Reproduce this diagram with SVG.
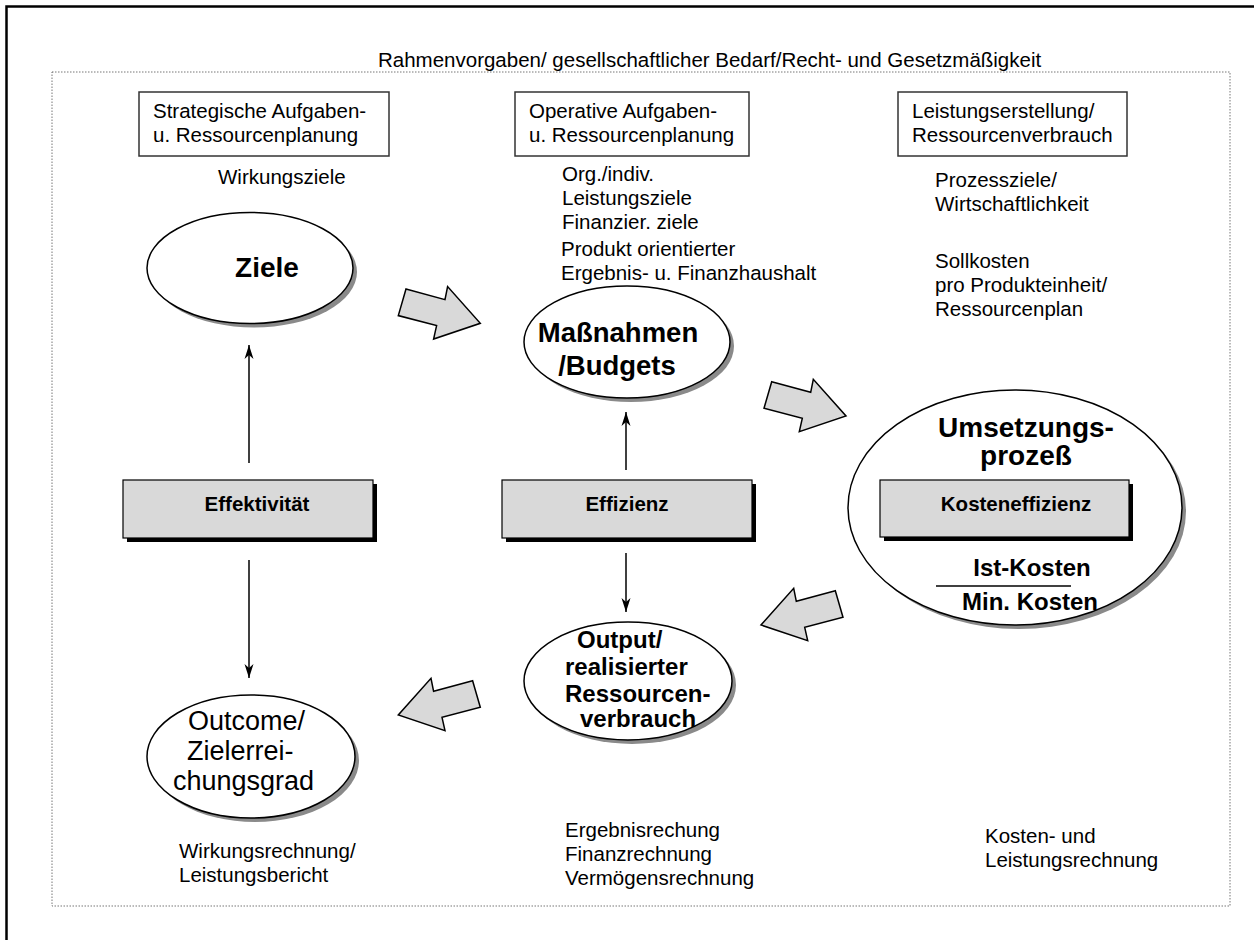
<svg xmlns="http://www.w3.org/2000/svg" width="1254" height="940" viewBox="0 0 1254 940">
  <style>
    text { font-family: "Liberation Sans", Arial, sans-serif; fill: #000; }
    .t { font-size: 20.5px; }
    .b { font-weight: bold; }
    .frame { fill: #fff; stroke: #333; stroke-width: 1.5; }
    .oval { fill: #fff; stroke: #000; stroke-width: 1.5; }
    .oshadow { fill: #8a8a8a; }
    .bar { fill: #d9d9d9; stroke: #000; stroke-width: 1.2; }
    .bshadow { fill: #000; }
    .block { fill: #d9d9d9; stroke: #000; stroke-width: 1.5; stroke-linejoin: miter; }
    .thin { stroke: #000; stroke-width: 1.5; fill: none; marker-end: url(#tip); }
  </style>
  <defs>
    <marker id="tip" markerUnits="userSpaceOnUse" markerWidth="16" markerHeight="12" refX="14" refY="5.5" orient="auto">
      <path d="M0,1 L14,5.5 L0,10 L4,5.5 Z" fill="#000"/>
    </marker>
  </defs>

  <rect width="1254" height="940" fill="#fff"/>

  <!-- page frame and dotted boundary -->
  <path d="M6.5,940 V6.5 H1254" fill="none" stroke="#000" stroke-width="2.5"/>
  <rect x="52" y="72" width="1178" height="834" fill="none" stroke="#777" stroke-width="1" stroke-dasharray="1.5 1.5"/>
  <text class="t" x="378" y="67">Rahmenvorgaben/ gesellschaftlicher Bedarf/Recht- und Gesetzmäßigkeit</text>

  <!-- column headers -->
  <g id="strategisch">
    <rect class="frame" x="139" y="92" width="250" height="64"/>
    <text class="t" x="153" y="118">Strategische Aufgaben-</text>
    <text class="t" x="153" y="142">u. Ressourcenplanung</text>
    <text class="t" x="218" y="184">Wirkungsziele</text>
  </g>
  <g id="operativ">
    <rect class="frame" x="515" y="92" width="234" height="64"/>
    <text class="t" x="529" y="118">Operative Aufgaben-</text>
    <text class="t" x="529" y="142">u. Ressourcenplanung</text>
    <text class="t" x="562" y="181">Org./indiv.</text>
    <text class="t" x="562" y="205">Leistungsziele</text>
    <text class="t" x="562" y="229">Finanzier. ziele</text>
    <text class="t" x="561" y="256">Produkt orientierter</text>
    <text class="t" x="561" y="280">Ergebnis- u. Finanzhaushalt</text>
  </g>
  <g id="leistungserstellung">
    <rect class="frame" x="898" y="92" width="229" height="64"/>
    <text class="t" x="912" y="118">Leistungserstellung/</text>
    <text class="t" x="912" y="142">Ressourcenverbrauch</text>
    <text class="t" x="935" y="187">Prozessziele/</text>
    <text class="t" x="935" y="211">Wirtschaftlichkeit</text>
    <text class="t" x="935" y="268">Sollkosten</text>
    <text class="t" x="935" y="292">pro Produkteinheit/</text>
    <text class="t" x="935" y="316">Ressourcenplan</text>
  </g>

  <!-- ovals -->
  <g id="ziele">
    <ellipse class="oshadow" cx="254" cy="272" rx="103" ry="55.5"/>
    <ellipse class="oval" cx="250" cy="268" rx="103" ry="55.5"/>
    <text class="b" x="267" y="277" font-size="28" text-anchor="middle">Ziele</text>
  </g>
  <g id="massnahmen">
    <ellipse class="oshadow" cx="631" cy="346" rx="103" ry="56"/>
    <ellipse class="oval" cx="627" cy="342" rx="103" ry="56"/>
    <text class="b" x="618" y="342" font-size="27.5" text-anchor="middle">Maßnahmen</text>
    <text class="b" x="617" y="375" font-size="27.5" text-anchor="middle">/Budgets</text>
  </g>
  <g id="umsetzung">
    <ellipse class="oshadow" cx="1019" cy="511.5" rx="167" ry="117.5"/>
    <ellipse class="oval" cx="1015" cy="507.5" rx="167" ry="117.5"/>
    <text class="b" x="1026" y="437" font-size="28" text-anchor="middle">Umsetzungs-</text>
    <text class="b" x="1026" y="465" font-size="28" text-anchor="middle">prozeß</text>
    <rect class="bshadow" x="884" y="484" width="249" height="57"/>
    <rect class="bar" x="880" y="480" width="249" height="57"/>
    <text class="b t" x="1016" y="511" text-anchor="middle">Kosteneffizienz</text>
    <text class="b" x="1032" y="576" font-size="24" text-anchor="middle">Ist-Kosten</text>
    <line x1="936" y1="586" x2="1071" y2="586" stroke="#000" stroke-width="1.5"/>
    <text class="b" x="1030" y="610" font-size="24" text-anchor="middle">Min. Kosten</text>
  </g>
  <g id="output">
    <ellipse class="oshadow" cx="632" cy="685" rx="104" ry="59"/>
    <ellipse class="oval" cx="628" cy="681" rx="104" ry="59"/>
    <text class="b" x="577" y="648" font-size="24">Output/</text>
    <text class="b" x="565" y="675" font-size="24">realisierter</text>
    <text class="b" x="565" y="702" font-size="24">Ressourcen-</text>
    <text class="b" x="580" y="727" font-size="24">verbrauch</text>
  </g>
  <g id="outcome">
    <ellipse class="oshadow" cx="255" cy="760.5" rx="104" ry="61.5"/>
    <ellipse class="oval" cx="251" cy="756.5" rx="104" ry="61.5"/>
    <text x="188" y="730" font-size="27">Outcome/</text>
    <text x="187" y="760" font-size="27">Zielerrei-</text>
    <text x="173" y="790" font-size="27">chungsgrad</text>
  </g>

  <!-- measure bars -->
  <g id="effektivitaet">
    <rect class="bshadow" x="127" y="484" width="250" height="58"/>
    <rect class="bar" x="123" y="480" width="250" height="58"/>
    <text class="b t" x="257" y="511" text-anchor="middle">Effektivität</text>
  </g>
  <g id="effizienz">
    <rect class="bshadow" x="506" y="484" width="250" height="58"/>
    <rect class="bar" x="502" y="480" width="250" height="58"/>
    <text class="b t" x="627" y="511" text-anchor="middle">Effizienz</text>
  </g>

  <!-- bottom reporting labels -->
  <g id="berichte">
    <text class="t" x="179" y="858">Wirkungsrechnung/</text>
    <text class="t" x="179" y="882">Leistungsbericht</text>
    <text class="t" x="565" y="837">Ergebnisrechung</text>
    <text class="t" x="565" y="861">Finanzrechnung</text>
    <text class="t" x="565" y="885">Vermögensrechnung</text>
    <text class="t" x="985" y="843">Kosten- und</text>
    <text class="t" x="985" y="867">Leistungsrechnung</text>
  </g>

  <!-- connectors -->
  <g id="connectors">
    <line class="thin" x1="249" y1="463" x2="249" y2="345"/>
    <line class="thin" x1="249" y1="560" x2="249" y2="678"/>
    <line class="thin" x1="626" y1="470" x2="626" y2="412"/>
    <line class="thin" x1="626" y1="553" x2="626" y2="612"/>
    <polygon class="block" points="406,289 445,299.6 447.6,286.6 480.3,323.3 433.6,339 436.6,325.6 398.3,315.6"/>
    <polygon class="block" points="771.7,381.7 810.7,392.3 813.3,379.3 846,416 799.3,431.7 802.3,418.3 764,408.3"/>
    <polygon class="block" points="835.3,590.7 796.3,601.3 793.7,588.3 761,625 807.7,640.7 804.7,627.3 843,617.3"/>
    <polygon class="block" points="472.6,680.7 433.6,691.3 431,678.3 398.3,715 445,730.7 442,717.3 480.3,707.3"/>
  </g>
</svg>
